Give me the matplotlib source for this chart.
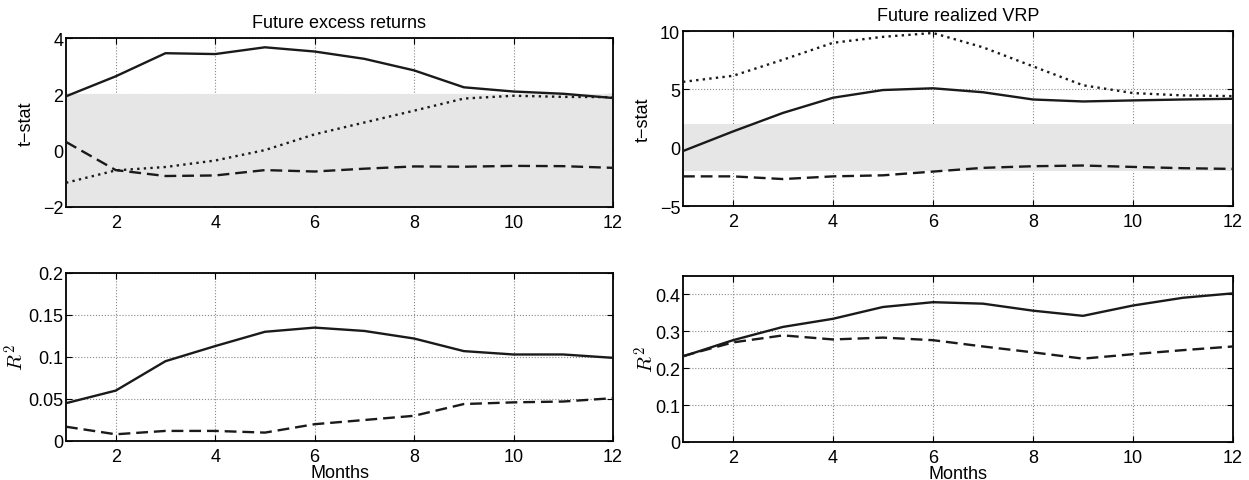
import numpy as np
import matplotlib
matplotlib.use('Agg')
import matplotlib.pyplot as plt

plt.rcParams['font.family'] = ['Liberation Sans', 'DejaVu Sans']
plt.rcParams['mathtext.fontset'] = 'cm'

months = [1, 2, 3, 4, 5, 6, 7, 8, 9, 10, 11, 12]

# t-stats, future excess returns
ret_t_solid = [1.93, 2.64, 3.46, 3.43, 3.67, 3.52, 3.26, 2.85, 2.25, 2.10, 2.02, 1.87]
ret_t_dotted = [-1.14, -0.70, -0.58, -0.35, 0.02, 0.58, 1.00, 1.42, 1.85, 1.95, 1.91, 1.90]
ret_t_dashed = [0.31, -0.69, -0.90, -0.88, -0.69, -0.74, -0.64, -0.56, -0.57, -0.54, -0.55, -0.61]

# t-stats, future realized VRP
vrp_t_solid = [-0.29, 1.39, 2.98, 4.28, 4.94, 5.09, 4.75, 4.13, 3.96, 4.05, 4.13, 4.19]
vrp_t_dotted = [5.64, 6.16, 7.54, 8.99, 9.50, 9.83, 8.60, 6.97, 5.35, 4.68, 4.48, 4.42]
vrp_t_dashed = [-2.46, -2.46, -2.69, -2.46, -2.37, -2.05, -1.73, -1.59, -1.53, -1.65, -1.76, -1.82]

# R^2
ret_r2_solid = [0.045, 0.060, 0.095, 0.113, 0.130, 0.135, 0.131, 0.122, 0.107, 0.103, 0.103, 0.099]
ret_r2_dashed = [0.017, 0.008, 0.012, 0.012, 0.010, 0.020, 0.025, 0.030, 0.044, 0.046, 0.047, 0.051]
vrp_r2_solid = [0.232, 0.276, 0.312, 0.334, 0.366, 0.379, 0.375, 0.356, 0.342, 0.370, 0.391, 0.403]
vrp_r2_dashed = [0.233, 0.270, 0.289, 0.278, 0.283, 0.276, 0.259, 0.243, 0.226, 0.238, 0.249, 0.259]

band = 2.0
W, H = 1249, 481
fig = plt.figure(figsize=(W / 100, H / 100), dpi=100)


def add_ax(l, t, r, b):
    return fig.add_axes([l / W, 1 - b / H, (r - l) / W, (b - t) / H])


def style(ax, ylim, yticks, yfmt=None):
    ax.set_xlim(1, 12)
    ax.set_ylim(*ylim)
    ax.set_xticks([2, 4, 6, 8, 10, 12])
    ax.set_yticks(yticks)
    if yfmt:
        ax.set_yticklabels(yfmt)
    ax.grid(True, linestyle=':', color='#888888', linewidth=0.8)
    ax.set_axisbelow(True)
    ax.tick_params(direction='in', length=4, top=True, right=True, labelsize=13, pad=2)
    ax.tick_params(axis='x', pad=5)
    for s in ax.spines.values():
        s.set_linewidth(1.3)


def lines(ax, solid, dashed, dotted=None):
    kw = dict(color='#1a1a1a', linewidth=1.7, zorder=3)
    ax.plot(months, solid, '-', **kw)
    ax.plot(months, dashed, linestyle=(0, (5, 2.5)), **kw)
    if dotted is not None:
        ax.plot(months, dotted, linestyle=(0, (1, 1.8)), **kw)


ax1 = add_ax(66, 39, 613, 208)
ax1.fill_between([1, 12], -band, band, color='#e6e6e6', zorder=2, linewidth=0)
lines(ax1, ret_t_solid, ret_t_dashed, ret_t_dotted)
style(ax1, (-2, 4), [-2, 0, 2, 4], ['\u22122', '0', '2', '4'])
ax1.set_ylabel('t\u2212stat', fontsize=13, labelpad=6)
ax1.set_title('Future excess returns', fontsize=13, pad=8)

ax2 = add_ax(683, 32, 1233, 207)
ax2.fill_between([1, 12], -band, band, color='#e6e6e6', zorder=2, linewidth=0)
lines(ax2, vrp_t_solid, vrp_t_dashed, vrp_t_dotted)
style(ax2, (-5, 10), [-5, 0, 5, 10], ['\u22125', '0', '5', '10'])
ax2.set_ylabel('t\u2212stat', fontsize=13, labelpad=6)
ax2.set_title('Future realized VRP', fontsize=13, pad=8)

ax3 = add_ax(66, 274, 613, 442)
lines(ax3, ret_r2_solid, ret_r2_dashed)
style(ax3, (0, 0.2), [0, 0.05, 0.1, 0.15, 0.2], ['0', '0.05', '0.1', '0.15', '0.2'])
ax3.set_ylabel(r'$R^2$', fontsize=15, labelpad=0)
ax3.set_xlabel('Months', fontsize=13, labelpad=-1)

ax4 = add_ax(683, 277, 1233, 443)
lines(ax4, vrp_r2_solid, vrp_r2_dashed)
style(ax4, (0, 0.45), [0, 0.1, 0.2, 0.3, 0.4], ['0', '0.1', '0.2', '0.3', '0.4'])
ax4.set_ylabel(r'$R^2$', fontsize=15, labelpad=-2)
ax4.set_xlabel('Months', fontsize=13, labelpad=-1)

fig.savefig('out.png', dpi=100, facecolor='white')
